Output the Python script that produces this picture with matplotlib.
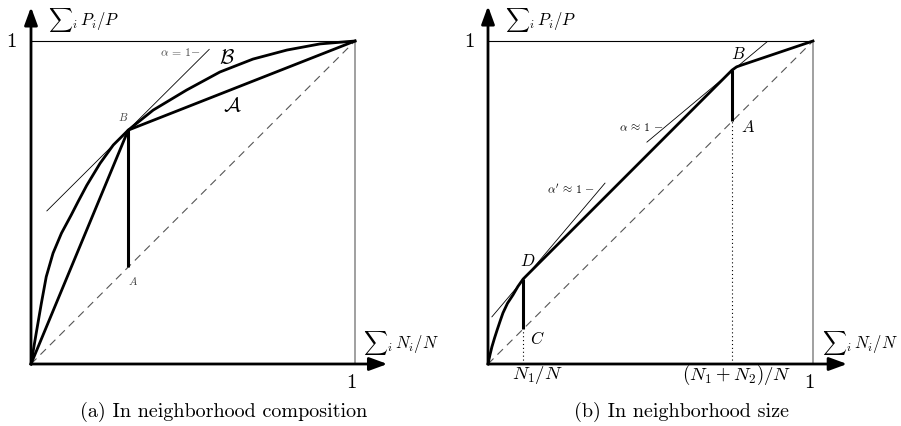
import matplotlib
matplotlib.use("Agg")
import matplotlib.pyplot as plt

plt.rcParams['mathtext.fontset'] = 'cm'
plt.rcParams['font.family'] = ['cmr10', 'DejaVu Serif']
plt.rcParams['axes.unicode_minus'] = False

# ---------------- data ----------------
# panel (a)
a_curveB_x = [0, 0.016, 0.032, 0.047, 0.068, 0.094, 0.124, 0.145, 0.172, 0.213, 0.254, 0.30,
              0.377, 0.48, 0.583, 0.685, 0.79, 0.892, 1.0]
a_curveB_y = [0, 0.095, 0.188, 0.27, 0.343, 0.405, 0.461, 0.502, 0.553, 0.621, 0.678, 0.724,
              0.786, 0.848, 0.904, 0.944, 0.972, 0.991, 1.0]
a_lineA_x = [0, 0.30, 1.0]
a_lineA_y = [0, 0.724, 1.0]
a_bar_x = [0.30, 0.30]
a_bar_y = [0.30, 0.724]
a_tan_x = [0.049, 0.55]
a_tan_y = [0.474, 0.974]

# panel (b)
b_curve_x = [0, 0.006, 0.012, 0.02, 0.028, 0.037, 0.046, 0.06, 0.077, 0.092, 0.108,
             0.751, 0.765, 0.782, 1.0]
b_curve_y = [0, 0.028, 0.053, 0.08, 0.105, 0.132, 0.158, 0.188, 0.214, 0.24, 0.263,
             0.91, 0.92, 0.926, 1.0]
b_N1 = 0.108
b_N12 = 0.751
b_D_y = 0.263
b_B_y = 0.91
b_tan1_x = [0.489, 0.858]
b_tan1_y = [0.687, 0.997]
b_tan2_x = [0.012, 0.36]
b_tan2_y = [0.146, 0.56]

W, H = 901, 426
fig = plt.figure(figsize=(W / 100, H / 100), dpi=100)


def make_ax(left_px, right_px, ox, scale_x, oy, scale_y):
    ax = fig.add_axes([left_px / W, 0, (right_px - left_px) / W, 1])
    ax.set_xlim((left_px - ox) / scale_x, (right_px - ox) / scale_x)
    ax.set_ylim((oy - H) / scale_y, oy / scale_y)
    ax.axis('off')
    return ax


def frame(ax, xtip, ytip):
    ax.plot([0, 1], [1, 1], color='black', lw=0.8, solid_capstyle='butt')
    ax.plot([1, 1], [0, 1], color='#999999', lw=1.3, solid_capstyle='butt')
    ax.plot([0, 1], [0, 1], color='#555555', lw=0.8, dashes=(7, 5))
    ap = dict(arrowstyle='-|>,head_length=0.9,head_width=0.33', lw=2.0,
              color='black', mutation_scale=12, shrinkA=0, shrinkB=0)
    ax.annotate('', xy=(xtip, 0), xytext=(0, 0), arrowprops=ap)
    ax.annotate('', xy=(0, ytip), xytext=(0, 0), arrowprops=ap)
    ax.text(0.052, 1.065, r'${\sum}_i\, P_i/P$', fontsize=12, ha='left', va='center')


# ---------------- panel (a) ----------------
axa = make_ax(0, 450, 31, 324, 364, 323)
frame(axa, 1.10, 1.105)
axa.plot(a_curveB_x, a_curveB_y, color='black', lw=2.0, solid_joinstyle='round')
axa.plot(a_lineA_x, a_lineA_y, color='black', lw=2.0, solid_joinstyle='round')
axa.plot(a_bar_x, a_bar_y, color='black', lw=2.2, solid_capstyle='butt')
axa.plot(a_tan_x, a_tan_y, color='black', lw=0.6)
axa.text(0.46, 0.966, r'$\alpha\,=\,1\!-$', fontsize=8.5, color='#444444', ha='center', va='center')
axa.text(0.605, 0.947, r'$\mathcal{B}$', fontsize=15, ha='center', va='center')
axa.text(0.62, 0.796, r'$\mathcal{A}$', fontsize=15, ha='center', va='center')
axa.text(0.284, 0.765, r'$B$', fontsize=8, color='#444444', ha='center', va='center')
axa.text(0.315, 0.257, r'$A$', fontsize=8, color='#444444', ha='center', va='center')
axa.text(-0.062, 0.997, '1', fontsize=15, ha='center', va='center')
axa.text(0.99, -0.059, '1', fontsize=15, ha='center', va='center')
axa.text(1.025, 0.065, r'${\sum}_i\, N_i/N$', fontsize=12, ha='left', va='center')

# ---------------- panel (b) ----------------
axb = make_ax(450, 901, 488, 325, 364, 323)
frame(axb, 1.105, 1.108)
axb.plot(b_curve_x, b_curve_y, color='black', lw=2.0, solid_joinstyle='round')
axb.plot([b_N1, b_N1], [b_N1, b_D_y], color='black', lw=2.2, solid_capstyle='butt')
axb.plot([b_N12, b_N12], [b_N12, b_B_y], color='black', lw=2.2, solid_capstyle='butt')
axb.plot([b_N1, b_N1], [0, b_N1], color='black', lw=0.8, linestyle=(0, (1, 2.5)))
axb.plot([b_N12, b_N12], [0, b_N12], color='black', lw=0.8, linestyle=(0, (1, 2.5)))
axb.plot(b_tan1_x, b_tan1_y, color='black', lw=0.6)
axb.plot(b_tan2_x, b_tan2_y, color='black', lw=0.6)
axb.text(0.769, 0.96, r'$B$', fontsize=12, ha='center', va='center')
axb.text(0.80, 0.734, r'$A$', fontsize=12, ha='center', va='center')
axb.text(0.123, 0.319, r'$D$', fontsize=12, ha='center', va='center')
axb.text(0.151, 0.08, r'$C$', fontsize=12, ha='center', va='center')
axb.text(0.47, 0.734, r'$\alpha\,\approx\,1\,-$', fontsize=8.5, ha='center', va='center')
axb.text(0.255, 0.542, r"$\alpha'\,\approx\,1\,-$", fontsize=8.5, ha='center', va='center')
axb.text(b_N1 + 0.043, -0.034, r'$N_1/N$', fontsize=13.5, ha='center', va='center')
axb.text(b_N12 + 0.015, -0.034, r'$(N_1+N_2)/N$', fontsize=13.5, ha='center', va='center')
axb.text(-0.058, 0.997, '1', fontsize=15, ha='center', va='center')
axb.text(0.988, -0.059, '1', fontsize=15, ha='center', va='center')
axb.text(1.028, 0.065, r'${\sum}_i\, N_i/N$', fontsize=12, ha='left', va='center')

fig.text(224 / W, 1 - 412 / H, '(a) In neighborhood composition', fontsize=14.5,
         ha='center', va='center')
fig.text(682 / W, 1 - 412 / H, '(b) In neighborhood size', fontsize=14.5,
         ha='center', va='center')

fig.savefig('out.png', dpi=100)
